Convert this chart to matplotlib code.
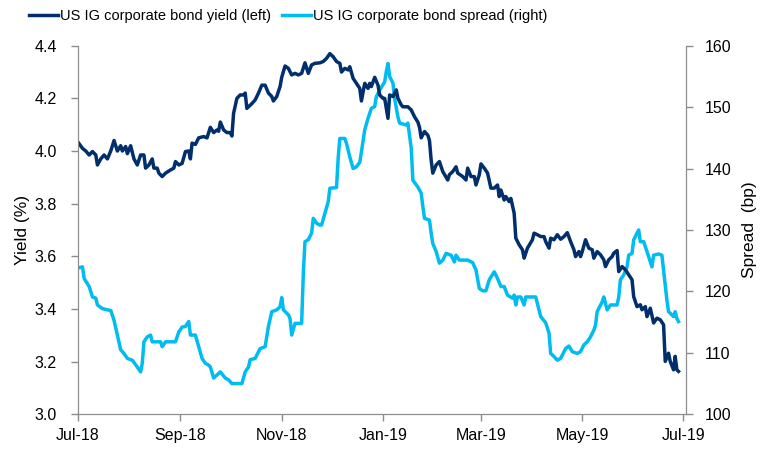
import matplotlib
matplotlib.use("Agg")
import matplotlib.pyplot as plt
import matplotlib.dates as mdates
import numpy as np
import pandas as pd

plt.rcParams['font.family'] = ['Liberation Sans', 'DejaVu Sans']

# days since 1 Jul 2018
yield_days = [0, 3, 5, 7, 9, 11, 12, 14, 16, 18, 20, 22, 24, 26, 27, 29, 30, 32, 34, 36,
              38, 40, 41, 43, 45, 46, 48, 49, 51, 53, 56, 58, 59, 61, 63, 65, 67, 68, 69, 71,
              73, 76, 78, 80, 82, 84, 85, 86, 88, 90, 92, 93, 94, 96, 98, 100, 101, 102, 105, 107,
              109, 111, 113, 115, 117, 118, 120, 122, 123, 125, 127, 129, 131, 133, 135, 137, 139, 141, 143, 146,
              148, 150, 152, 154, 156, 158, 159, 161, 163, 164, 166, 168, 170, 171, 173, 175, 176, 177, 179, 181,
              182, 184, 185, 187, 188, 190, 192, 193, 195, 196, 199, 201, 203, 205, 206, 207, 209, 211, 212, 213,
              214, 216, 218, 220, 223, 224, 226, 228, 229, 232, 234, 235, 237, 239, 240, 242, 243, 245, 247, 249,
              251, 253, 254, 255, 257, 258, 260, 261, 263, 264, 266, 268, 269, 271, 274, 275, 277, 279, 281, 282,
              284, 285, 287, 289, 291, 293, 295, 297, 299, 300, 302, 303, 304, 306, 308, 310, 311, 313, 315, 317,
              318, 320, 322, 323, 325, 326, 328, 330, 332, 334, 335, 337, 339, 340, 342, 343, 345, 347, 349, 351,
              353, 354, 356, 357, 359, 360, 361, 362]
yield_vals = [4.036, 4.01, 4.00, 3.985, 3.998, 3.985, 3.947, 3.97, 3.985, 3.97, 4.00, 4.04, 4.00, 4.02, 4.00, 4.017, 3.99, 4.02, 3.97, 3.947,
              3.985, 3.985, 3.935, 3.947, 3.97, 3.935, 3.935, 3.916, 3.903, 3.916, 3.928, 3.935, 3.96, 3.947, 3.953, 3.998, 4.00, 3.97, 4.03, 4.025,
              4.05, 4.055, 4.05, 4.09, 4.07, 4.08, 4.075, 4.11, 4.08, 4.07, 4.07, 4.057, 4.143, 4.20, 4.213, 4.213, 4.22, 4.162, 4.18, 4.194,
              4.22, 4.25, 4.25, 4.22, 4.207, 4.19, 4.207, 4.245, 4.28, 4.323, 4.314, 4.289, 4.295, 4.289, 4.295, 4.335, 4.295, 4.327, 4.333, 4.335,
              4.34, 4.352, 4.37, 4.358, 4.34, 4.333, 4.30, 4.314, 4.308, 4.32, 4.276, 4.257, 4.238, 4.19, 4.257, 4.238, 4.257, 4.245, 4.28, 4.25,
              4.213, 4.20, 4.20, 4.124, 4.213, 4.207, 4.232, 4.20, 4.175, 4.168, 4.168, 4.156, 4.13, 4.11, 4.09, 4.05, 4.074, 4.06, 4.04, 3.966,
              3.916, 3.947, 3.96, 3.922, 3.89, 3.91, 3.922, 3.94, 3.916, 3.903, 3.89, 3.935, 3.903, 3.903, 3.871, 3.91, 3.951, 3.935, 3.916, 3.859,
              3.859, 3.871, 3.827, 3.852, 3.814, 3.827, 3.808, 3.82, 3.764, 3.669, 3.644, 3.625, 3.593, 3.631, 3.663, 3.688, 3.682, 3.675, 3.675, 3.656,
              3.631, 3.669, 3.663, 3.682, 3.665, 3.675, 3.69, 3.656, 3.625, 3.599, 3.618, 3.599, 3.618, 3.663, 3.631, 3.625, 3.593, 3.618, 3.606, 3.587,
              3.561, 3.587, 3.599, 3.612, 3.622, 3.542, 3.561, 3.549, 3.53, 3.511, 3.447, 3.409, 3.416, 3.397, 3.409, 3.371, 3.403, 3.347, 3.365, 3.359,
              3.34, 3.201, 3.232, 3.201, 3.169, 3.22, 3.169, 3.163]

spread_days = [0, 3, 4, 7, 9, 11, 12, 15, 18, 20, 22, 24, 26, 28, 30, 33, 36, 38, 39, 40,
               42, 44, 45, 48, 50, 51, 53, 59, 61, 63, 65, 67, 68, 71, 73, 75, 77, 79, 80, 82,
               84, 86, 89, 91, 93, 99, 101, 103, 104, 107, 110, 113, 115, 117, 120, 122, 123, 124, 127, 128,
               129, 131, 135, 136, 137, 139, 141, 142, 144, 146, 147, 149, 151, 152, 156, 157, 158, 161, 162, 164,
               166, 168, 170, 171, 173, 175, 177, 179, 180, 182, 185, 186, 187, 188, 190, 191, 193, 194, 198, 199,
               201, 202, 205, 207, 208, 209, 212, 213, 214, 216, 218, 220, 222, 225, 227, 228, 230, 235, 238, 240,
               242, 244, 246, 248, 251, 253, 255, 257, 259, 262, 263, 264, 265, 267, 269, 270, 276, 278, 279, 282,
               284, 285, 287, 289, 291, 294, 296, 298, 301, 303, 305, 307, 309, 311, 312, 313, 316, 317, 319, 321,
               325, 326, 327, 329, 331, 332, 334, 335, 337, 338, 339, 341, 343, 345, 346, 347, 350, 352, 353, 355,
               356, 358, 359, 360, 361, 362]
spread_vals = [123.8, 124.0, 122.1, 120.8, 119.1, 118.9, 117.8, 117.2, 117.0, 116.9, 115.3, 112.9, 110.5, 109.9, 109.1, 108.8, 107.7, 106.9, 108.3, 111.8,
               112.6, 112.9, 111.8, 111.8, 111.8, 111.0, 111.8, 111.8, 113.4, 114.2, 114.3, 115.1, 112.9, 112.9, 111.0, 109.1, 108.3, 108.0, 107.7, 105.9,
               106.4, 106.9, 105.9, 105.6, 105.0, 105.0, 106.9, 107.7, 108.9, 109.1, 110.7, 111.0, 114.3, 116.7, 117.0, 117.5, 119.0, 117.0, 116.2, 115.6,
               112.9, 114.8, 114.8, 122.9, 128.1, 128.4, 129.5, 131.9, 131.1, 130.8, 130.8, 132.7, 134.6, 136.8, 136.9, 141.7, 144.9, 144.9, 144.1, 141.9,
               140.0, 140.3, 141.0, 142.7, 146.3, 148.2, 149.8, 150.1, 151.7, 152.8, 154.1, 155.8, 157.1, 155.0, 153.9, 151.4, 148.4, 147.4, 147.1, 147.4,
               143.3, 138.1, 137.0, 136.0, 133.8, 131.9, 131.6, 129.5, 127.8, 126.5, 124.6, 125.1, 126.2, 125.9, 124.8, 125.9, 125.1, 125.1, 124.7, 123.5,
               120.5, 120.1, 120.1, 121.9, 123.2, 122.1, 120.8, 120.8, 119.4, 118.9, 119.4, 117.8, 119.1, 119.1, 117.8, 119.1, 119.1, 117.0, 115.9, 114.9,
               113.2, 109.9, 109.4, 108.8, 109.1, 110.7, 111.1, 110.2, 109.9, 110.2, 111.3, 111.8, 112.6, 113.7, 114.5, 116.7, 118.3, 119.1, 117.0, 117.8,
               117.8, 119.1, 121.9, 122.7, 124.0, 125.9, 126.2, 128.4, 129.5, 130.0, 128.1, 128.1, 126.5, 124.8, 124.0, 125.9, 126.1, 125.9, 123.5, 118.6,
               116.7, 116.2, 115.9, 116.7, 115.6, 115.1]

start = pd.Timestamp("2018-07-01")
yield_dates = start + pd.to_timedelta(yield_days, unit="D")
spread_dates = start + pd.to_timedelta(spread_days, unit="D")

navy = "#002F6C"
sky = "#00BCEF"
grey = "#8C8C8C"

fig = plt.figure(figsize=(7.63, 4.49), dpi=100)
ax = fig.add_axes([0.1016, 0.0773, 0.7971, 0.8209])
ax2 = ax.twinx()

l1, = ax.plot(yield_dates, yield_vals, color=navy, lw=2.5, label="US IG corporate bond yield (left)")
l2, = ax2.plot(spread_dates, spread_vals, color=sky, lw=2.5, label="US IG corporate bond spread (right)")
ax.set_zorder(ax2.get_zorder() + 1)
ax.patch.set_visible(False)

ax.set_xlim(pd.Timestamp("2018-07-01"), pd.Timestamp("2019-07-02 08:00"))
ax.set_ylim(3.0, 4.4)
ax2.set_ylim(100, 160)
ax.set_yticks(np.arange(3.0, 4.41, 0.2))
ax2.set_yticks(np.arange(100, 161, 10))
ax.yaxis.set_major_formatter(matplotlib.ticker.FormatStrFormatter('%.1f'))

ticks = pd.date_range("2018-07-01", "2019-07-01", freq="2MS")
ax.set_xticks(ticks)
ax.xaxis.set_major_formatter(mdates.DateFormatter("%b-%y"))

for a in (ax, ax2):
    for s in a.spines.values():
        s.set_color(grey)
    a.spines['top'].set_visible(False)
    a.tick_params(colors=grey, labelcolor="black", labelsize=11.5, length=5, width=1)
ax.tick_params(axis='x', pad=5)
ax.tick_params(axis='y', pad=10)
ax2.tick_params(axis='y', pad=9)

ax.set_ylabel("Yield (%)", fontsize=12.5, labelpad=3)
ax2.set_ylabel("Spread  (bp)", fontsize=12.5, labelpad=7)

fig.legend(handles=[l1, l2], loc="upper left", bbox_to_anchor=(0.026, 1.0), ncol=2, frameon=False,
           fontsize=10.5, handlelength=2.0, handletextpad=0.15, columnspacing=0.75, borderaxespad=0.2)

fig.savefig("out.png", dpi=100)
